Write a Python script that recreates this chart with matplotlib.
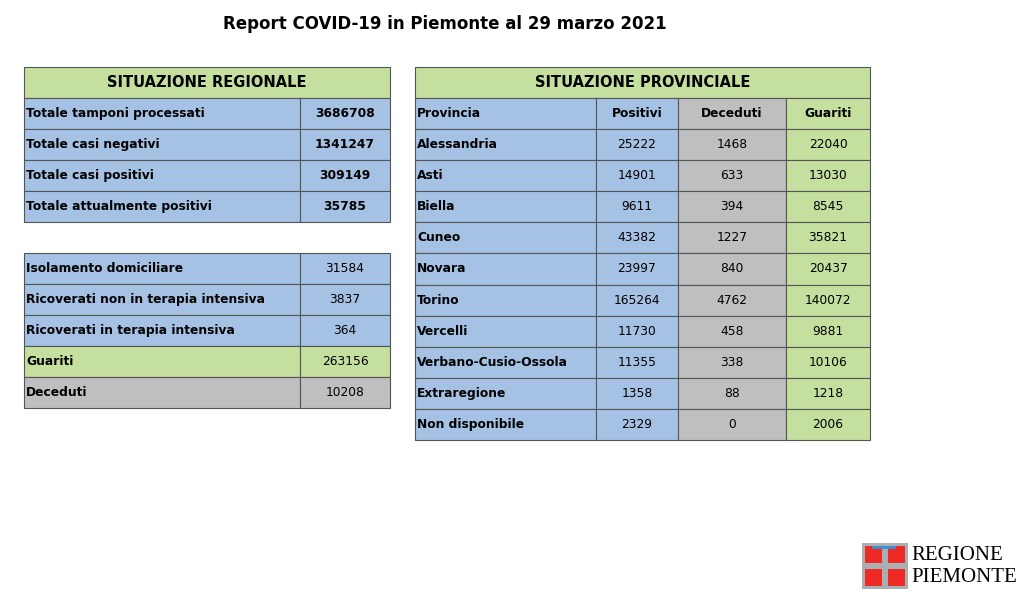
import matplotlib
matplotlib.use("Agg")
import matplotlib.pyplot as plt
from matplotlib.patches import Rectangle

title = "Report COVID-19 in Piemonte al 29 marzo 2021"
reg_labels = ["Totale tamponi processati", "Totale casi negativi", "Totale casi positivi", "Totale attualmente positivi"]
reg_values = [3686708, 1341247, 309149, 35785]
det_labels = ["Isolamento domiciliare", "Ricoverati non in terapia intensiva", "Ricoverati in terapia intensiva", "Guariti", "Deceduti"]
det_values = [31584, 3837, 364, 263156, 10208]
prov_cols = ["Provincia", "Positivi", "Deceduti", "Guariti"]
province = ["Alessandria", "Asti", "Biella", "Cuneo", "Novara", "Torino", "Vercelli",
            "Verbano-Cusio-Ossola", "Extraregione", "Non disponibile"]
positivi = [25222, 14901, 9611, 43382, 23997, 165264, 11730, 11355, 1358, 2329]
deceduti = [1468, 633, 394, 1227, 840, 4762, 458, 338, 88, 0]
guariti = [22040, 13030, 8545, 35821, 20437, 140072, 9881, 10106, 1218, 2006]

GREEN = "#C5DF9F"; BLUE = "#A5C2E4"; GRAY = "#BFBFBF"; EDGE = "#555555"
FONT = "DejaVu Sans"

fig = plt.figure(figsize=(10.24, 6), dpi=100)
ax = fig.add_axes([0, 0, 1, 1])
ax.set_xlim(0, 1024); ax.set_ylim(600, 0); ax.axis("off")

def cell(x0, x1, y0, y1, color, text, ha="center", bold=True, size=8.8):
    ax.add_patch(Rectangle((x0, y0), x1 - x0, y1 - y0, facecolor=color, edgecolor=EDGE, lw=0.8))
    tx = x0 + 2 if ha == "left" else (x0 + x1) / 2
    ax.text(tx, (y0 + y1) / 2, text, ha=ha, va="center", fontsize=size,
            fontweight="bold" if bold else "normal", family=FONT, color="black")

ax.text(445, 24, title, ha="center", va="center", fontsize=12, fontweight="bold", family=FONT)

# regional
cell(24, 390, 67, 98, GREEN, "SITUAZIONE REGIONALE", size=10.5)
h = 31
for i, (l, v) in enumerate(zip(reg_labels, reg_values)):
    y0 = 98 + i * h
    cell(24, 300, y0, y0 + h, BLUE, l, ha="left")
    cell(300, 390, y0, y0 + h, BLUE, str(v))
det_colors = [BLUE, BLUE, BLUE, GREEN, GRAY]
for i, (l, v) in enumerate(zip(det_labels, det_values)):
    y0 = 253 + i * h
    cell(24, 300, y0, y0 + h, det_colors[i], l, ha="left")
    cell(300, 390, y0, y0 + h, det_colors[i], str(v), bold=False)

# provincial
xs = [415, 596, 678, 786, 870]
colc = [BLUE, BLUE, GRAY, GREEN]
cell(415, 870, 67, 98, GREEN, "SITUAZIONE PROVINCIALE", size=10.5)
for j, c in enumerate(prov_cols):
    cell(xs[j], xs[j + 1], 98, 129, colc[j], c, ha="left" if j == 0 else "center")
for i in range(len(province)):
    y0 = 129 + i * 31.1
    y1 = y0 + 31.1
    cell(xs[0], xs[1], y0, y1, colc[0], province[i], ha="left")
    cell(xs[1], xs[2], y0, y1, colc[1], str(positivi[i]), bold=False)
    cell(xs[2], xs[3], y0, y1, colc[2], str(deceduti[i]), bold=False)
    cell(xs[3], xs[4], y0, y1, colc[3], str(guariti[i]), bold=False)

# logo
ax.add_patch(Rectangle((862, 543), 46, 46, facecolor="#A9B0B4", edgecolor="none"))
for (qx, qy) in [(865, 546), (888, 546), (865, 569), (888, 569)]:
    ax.add_patch(Rectangle((qx, qy), 17, 17, facecolor="#EE2A24", edgecolor="none"))
ax.add_patch(Rectangle((872, 546), 24, 3, facecolor="#3B8FD9", edgecolor="none"))
ax.text(911, 556, "REGIONE", ha="left", va="center", fontsize=15, family="Liberation Serif")
ax.text(911, 578, "PIEMONTE", ha="left", va="center", fontsize=15, family="Liberation Serif")

fig.savefig("out.png", dpi=100)
